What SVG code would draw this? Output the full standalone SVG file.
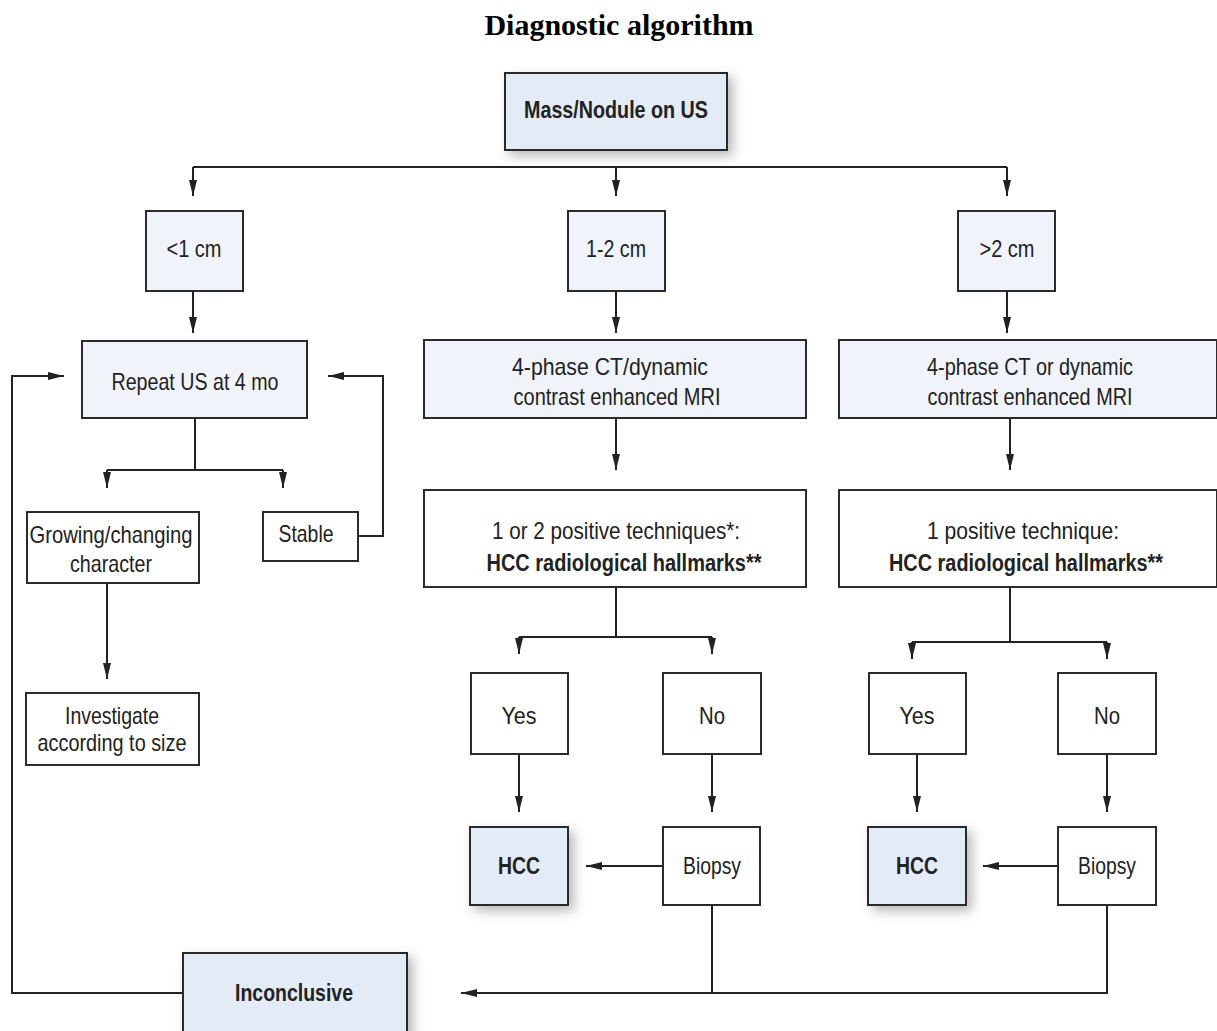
<svg xmlns="http://www.w3.org/2000/svg" width="1217" height="1031" viewBox="0 0 1217 1031">
  <style>
    .box { stroke: #2b2b2b; stroke-width: 2; fill: #ffffff; }
    .tint { fill: #f0f4fa; }
    .key { fill: #e3ebf6; filter: url(#shadow); }
    .t { font-family: "Liberation Sans", Arial, sans-serif; font-size: 24px; fill: #222; text-anchor: middle; }
    .b { font-weight: bold; }
    .title { font-family: "Liberation Serif", "Times New Roman", serif; font-size: 30px; font-weight: bold; fill: #000; text-anchor: middle; }
    .wire { fill: none; stroke: #222; stroke-width: 2; }
    .arr { marker-end: url(#head); }
  </style>
  <defs>
    <filter id="shadow" x="-20%" y="-20%" width="150%" height="150%">
      <feDropShadow dx="5" dy="5" stdDeviation="6" flood-color="#000" flood-opacity="0.28"/>
    </filter>
    <marker id="head" viewBox="0 0 16 8" refX="16" refY="4" markerWidth="16" markerHeight="8" markerUnits="userSpaceOnUse" orient="auto">
      <path d="M0,0 L16,4 L0,8 Z" fill="#222"/>
    </marker>
  </defs>

  <rect width="1217" height="1031" fill="#ffffff"/>

  <text class="title" x="619" y="35">Diagnostic algorithm</text>

  <!-- connectors -->
  <g id="connectors">
    <path class="wire" d="M193 167 H1007"/>
    <path class="wire arr" d="M193 167 V196"/>
    <path class="wire arr" d="M616 167 V196"/>
    <path class="wire arr" d="M1007 167 V196"/>

    <path class="wire arr" d="M193 291 V333"/>
    <path class="wire arr" d="M616 291 V333"/>
    <path class="wire arr" d="M1007 291 V333"/>

    <path class="wire" d="M195 418 V470 M107 470 H283"/>
    <path class="wire arr" d="M107 470 V488"/>
    <path class="wire arr" d="M283 470 V488"/>
    <path class="wire arr" d="M358 536 H383 V376 H328"/>
    <path class="wire arr" d="M107 583 V679"/>
    <path class="wire arr" d="M183 993 H12 V376 H64"/>

    <path class="wire arr" d="M616 418 V470"/>
    <path class="wire arr" d="M1010 418 V470"/>

    <path class="wire" d="M616 587 V637 M519 637 H712"/>
    <path class="wire arr" d="M519 637 V654"/>
    <path class="wire arr" d="M712 637 V654"/>
    <path class="wire" d="M1010 587 V642 M912 642 H1107"/>
    <path class="wire arr" d="M912 642 V659"/>
    <path class="wire arr" d="M1107 642 V659"/>

    <path class="wire arr" d="M519 754 V812"/>
    <path class="wire arr" d="M712 754 V812"/>
    <path class="wire arr" d="M917 754 V812"/>
    <path class="wire arr" d="M1107 754 V812"/>

    <path class="wire arr" d="M663 866 H586"/>
    <path class="wire arr" d="M1058 866 H983"/>

    <path class="wire" d="M712 905 V993"/>
    <path class="wire arr" d="M1107 905 V993 H461"/>
  </g>

  <g id="mass">
    <rect class="box key" x="505" y="73" width="222" height="77"/>
    <text class="t b" x="616" y="118" textLength="184" lengthAdjust="spacingAndGlyphs">Mass/Nodule on US</text>
  </g>

  <g id="size-small">
    <rect class="box tint" x="146" y="211" width="97" height="80"/>
    <text class="t" x="194" y="257" textLength="55" lengthAdjust="spacingAndGlyphs">&lt;1 cm</text>
  </g>
  <g id="size-mid">
    <rect class="box tint" x="568" y="211" width="97" height="80"/>
    <text class="t" x="616" y="257" textLength="60" lengthAdjust="spacingAndGlyphs">1-2 cm</text>
  </g>
  <g id="size-large">
    <rect class="box tint" x="958" y="211" width="97" height="80"/>
    <text class="t" x="1007" y="257" textLength="55" lengthAdjust="spacingAndGlyphs">&gt;2 cm</text>
  </g>

  <g id="repeat-us">
    <rect class="box tint" x="82" y="341" width="225" height="77"/>
    <text class="t" x="195" y="390" textLength="167" lengthAdjust="spacingAndGlyphs">Repeat US at 4 mo</text>
  </g>
  <g id="growing">
    <rect class="box" x="27" y="512" width="172" height="71"/>
    <text class="t" x="111" y="543" textLength="163" lengthAdjust="spacingAndGlyphs">Growing/changing</text>
    <text class="t" x="111" y="572" textLength="82" lengthAdjust="spacingAndGlyphs">character</text>
  </g>
  <g id="stable">
    <rect class="box" x="263" y="512" width="95" height="49"/>
    <text class="t" x="306" y="542" textLength="55" lengthAdjust="spacingAndGlyphs">Stable</text>
  </g>
  <g id="investigate">
    <rect class="box" x="26" y="693" width="173" height="72"/>
    <text class="t" x="112" y="724" textLength="94" lengthAdjust="spacingAndGlyphs">Investigate</text>
    <text class="t" x="112" y="751" textLength="149" lengthAdjust="spacingAndGlyphs">according to size</text>
  </g>

  <g id="imaging-mid">
    <rect class="box tint" x="424" y="340" width="382" height="78"/>
    <text class="t" x="610" y="375" textLength="196" lengthAdjust="spacingAndGlyphs">4-phase CT/dynamic</text>
    <text class="t" x="617" y="405" textLength="207" lengthAdjust="spacingAndGlyphs">contrast enhanced MRI</text>
  </g>
  <g id="imaging-large">
    <rect class="box tint" x="839" y="340" width="378" height="78"/>
    <text class="t" x="1030" y="375" textLength="206" lengthAdjust="spacingAndGlyphs">4-phase CT or dynamic</text>
    <text class="t" x="1030" y="405" textLength="205" lengthAdjust="spacingAndGlyphs">contrast enhanced MRI</text>
  </g>

  <g id="hallmarks-mid">
    <rect class="box" x="424" y="490" width="382" height="97"/>
    <text class="t" x="616" y="539" textLength="248" lengthAdjust="spacingAndGlyphs">1 or 2 positive techniques*:</text>
    <text class="t b" x="624" y="571" textLength="275" lengthAdjust="spacingAndGlyphs">HCC radiological hallmarks**</text>
  </g>
  <g id="hallmarks-large">
    <rect class="box" x="839" y="490" width="378" height="97"/>
    <text class="t" x="1023" y="539" textLength="192" lengthAdjust="spacingAndGlyphs">1 positive technique:</text>
    <text class="t b" x="1026" y="571" textLength="274" lengthAdjust="spacingAndGlyphs">HCC radiological hallmarks**</text>
  </g>

  <g id="yes-mid">
    <rect class="box" x="471" y="673" width="97" height="81"/>
    <text class="t" x="519" y="724" textLength="35" lengthAdjust="spacingAndGlyphs">Yes</text>
  </g>
  <g id="no-mid">
    <rect class="box" x="663" y="673" width="98" height="81"/>
    <text class="t" x="712" y="724" textLength="26" lengthAdjust="spacingAndGlyphs">No</text>
  </g>
  <g id="yes-large">
    <rect class="box" x="869" y="673" width="97" height="81"/>
    <text class="t" x="917" y="724" textLength="35" lengthAdjust="spacingAndGlyphs">Yes</text>
  </g>
  <g id="no-large">
    <rect class="box" x="1058" y="673" width="98" height="81"/>
    <text class="t" x="1107" y="724" textLength="26" lengthAdjust="spacingAndGlyphs">No</text>
  </g>

  <g id="hcc-mid">
    <rect class="box key" x="470" y="827" width="98" height="78"/>
    <text class="t b" x="519" y="874" textLength="42" lengthAdjust="spacingAndGlyphs">HCC</text>
  </g>
  <g id="biopsy-mid">
    <rect class="box" x="663" y="827" width="97" height="78"/>
    <text class="t" x="712" y="874" textLength="58" lengthAdjust="spacingAndGlyphs">Biopsy</text>
  </g>
  <g id="hcc-large">
    <rect class="box key" x="868" y="827" width="98" height="78"/>
    <text class="t b" x="917" y="874" textLength="42" lengthAdjust="spacingAndGlyphs">HCC</text>
  </g>
  <g id="biopsy-large">
    <rect class="box" x="1058" y="827" width="98" height="78"/>
    <text class="t" x="1107" y="874" textLength="58" lengthAdjust="spacingAndGlyphs">Biopsy</text>
  </g>

  <g id="inconclusive">
    <rect class="box key" x="183" y="953" width="224" height="90"/>
    <text class="t b" x="294" y="1001" textLength="118" lengthAdjust="spacingAndGlyphs">Inconclusive</text>
  </g>
</svg>
